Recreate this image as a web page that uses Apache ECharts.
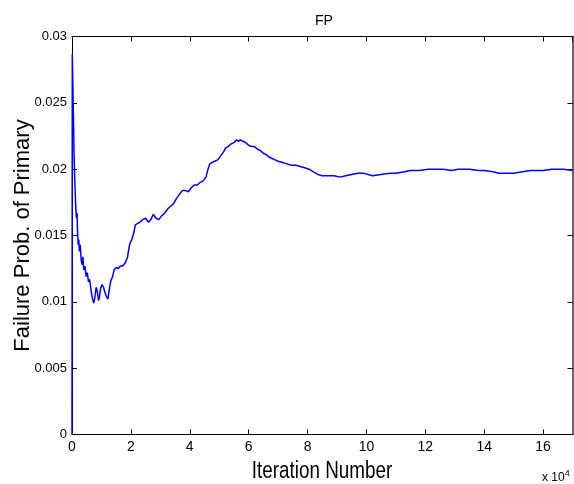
<!DOCTYPE html>
<html>
<head>
<meta charset="utf-8">
<script src="https://cdn.jsdelivr.net/npm/echarts@6/dist/echarts.min.js"></script>
<style>
html,body{margin:0;padding:0;background:#fff;}
#c{width:574px;height:484px;}
</style>
</head>
<body>
<div id="c"></div>
<script>
// Iteration number (in units of 10^4)
var iterX = [0, 0.01, 0.03, 0.05, 0.07, 0.09, 0.11, 0.13, 0.15, 0.17, 0.19, 0.21, 0.23, 0.25, 0.28, 0.31, 0.34, 0.37, 0.40, 0.44, 0.48, 0.52, 0.56, 0.60, 0.65, 0.70, 0.74, 0.78, 0.82, 0.86, 0.90, 0.93, 0.97, 1.02, 1.07, 1.12, 1.17, 1.22, 1.27, 1.32, 1.38, 1.43, 1.50, 1.57, 1.64, 1.72, 1.80, 1.88, 1.93, 1.97, 2.03, 2.10, 2.15, 2.22, 2.30, 2.40, 2.50, 2.60, 2.68, 2.76, 2.85, 2.95, 3.05, 3.15, 3.25, 3.35, 3.45, 3.55, 3.65, 3.75, 3.85, 3.95, 4.05, 4.15, 4.25, 4.35, 4.45, 4.55, 4.62, 4.68, 4.75, 4.85, 4.95, 5.05, 5.15, 5.22, 5.30, 5.40, 5.50, 5.58, 5.65, 5.72, 5.80, 5.90, 6.00, 6.10, 6.20, 6.30, 6.40, 6.50, 6.60, 6.70, 6.80, 6.90, 7.00, 7.15, 7.30, 7.45, 7.60, 7.75, 7.90, 8.05, 8.20, 8.35, 8.50, 8.70, 8.90, 9.10, 9.30, 9.50, 9.70, 9.90, 10.2, 10.5, 10.8, 11.0, 11.3, 11.5, 11.8, 12.1, 12.4, 12.6, 12.9, 13.1, 13.3, 13.5, 13.8, 14.0, 14.3, 14.5, 14.8, 15.0, 15.3, 15.6, 15.8, 16.0, 16.3, 16.5, 16.7, 17.0];
// Failure probability of primary
var failProb = [0, 0.0287, 0.0262, 0.0238, 0.0212, 0.0195, 0.0182, 0.0171, 0.0163, 0.0167, 0.0152, 0.0143, 0.0147, 0.0138, 0.0143, 0.0132, 0.0128, 0.0134, 0.0124, 0.0127, 0.0119, 0.0122, 0.0115, 0.0117, 0.0108, 0.0102, 0.0099, 0.0104, 0.0111, 0.0108, 0.0101, 0.0103, 0.0110, 0.0113, 0.0111, 0.0107, 0.0104, 0.0102, 0.0110, 0.0116, 0.0119, 0.0124, 0.0126, 0.0125, 0.0127, 0.0127, 0.0129, 0.0133, 0.0140, 0.0144, 0.0147, 0.0152, 0.0158, 0.0159, 0.0160, 0.0162, 0.0163, 0.0160, 0.0162, 0.0166, 0.0163, 0.0162, 0.0165, 0.0167, 0.0170, 0.0172, 0.0174, 0.0178, 0.0181, 0.0184, 0.0184, 0.0183, 0.0186, 0.0188, 0.0188, 0.0190, 0.0191, 0.0194, 0.0200, 0.0204, 0.0205, 0.0206, 0.0207, 0.0210, 0.0213, 0.0216, 0.0217, 0.0219, 0.0220, 0.0222, 0.0221, 0.0222, 0.0221, 0.0220, 0.0218, 0.0217, 0.0217, 0.0215, 0.0214, 0.0212, 0.0211, 0.0209, 0.0208, 0.0207, 0.0206, 0.0205, 0.0204, 0.0203, 0.0203, 0.0202, 0.0201, 0.0200, 0.0198, 0.0196, 0.0195, 0.0195, 0.0195, 0.0194, 0.0195, 0.0196, 0.0197, 0.0197, 0.0195, 0.0196, 0.0197, 0.0197, 0.0198, 0.0199, 0.0199, 0.0200, 0.0200, 0.0200, 0.0199, 0.0200, 0.0200, 0.0200, 0.0199, 0.0199, 0.0198, 0.0197, 0.0197, 0.0197, 0.0198, 0.0199, 0.0199, 0.0199, 0.0200, 0.0200, 0.0200, 0.0199];
var xTicks = [0, 2, 4, 6, 8, 10, 12, 14, 16];
var titleText = 'FP';
var xName = 'Iteration Number';
var yName = 'Failure Prob. of Primary';

var seriesData = iterX.map(function (x, i) { return [x, failProb[i]]; });
var chart = echarts.init(document.getElementById('c'), null, {renderer: 'canvas'});
var black = '#000';
var fontSans = '"Liberation Sans", Arial, sans-serif';
chart.setOption({
  animation: false,
  backgroundColor: '#fff',
  title: {
    text: titleText, left: 310, top: 9,
    textStyle: {fontSize: 14, fontWeight: 'normal', color: black, fontFamily: fontSans}
  },
  grid: {left: 72, right: 1.5, top: 36.5, bottom: 49.5, containLabel: false, outerBoundsMode: 'none'},
  xAxis: [{
    type: 'value', min: 0, max: 17, interval: 2, position: 'bottom',
    axisLine: {show: true, onZero: false, lineStyle: {color: black, width: 1}},
    axisTick: {show: true, inside: true, length: 5, lineStyle: {color: black}},
    axisLabel: {show: true, color: black, fontSize: 14, fontFamily: fontSans, margin: 6,
      showMaxLabel: false,
      formatter: function (v) { return xTicks.indexOf(v) >= 0 ? String(v) : ''; }},
    splitLine: {show: false}
  }, {
    type: 'value', min: 0, max: 17, interval: 2, position: 'top',
    axisLine: {show: true, onZero: false, lineStyle: {color: black, width: 1}},
    axisTick: {show: true, inside: true, length: 5, lineStyle: {color: black}},
    axisLabel: {show: false}, splitLine: {show: false}
  }],
  yAxis: [{
    type: 'value', min: 0, max: 0.03, interval: 0.005, position: 'left',
    name: yName, nameLocation: 'middle', nameGap: 38, nameRotate: 90, nameMoveOverlap: false,
    nameTextStyle: {fontSize: 22, color: black, fontFamily: fontSans},
    axisLine: {show: true, onZero: false, lineStyle: {color: black, width: 1}},
    axisTick: {show: true, inside: true, length: 5, lineStyle: {color: black}},
    axisLabel: {show: true, color: black, fontSize: 13, fontFamily: fontSans, margin: 5,
      formatter: function (v) { return String(+v.toFixed(3)); }},
    splitLine: {show: false}
  }, {
    type: 'value', min: 0, max: 0.03, interval: 0.005, position: 'right',
    axisLine: {show: true, onZero: false, lineStyle: {color: '#333', width: 1.5}},
    axisTick: {show: true, inside: true, length: 5, lineStyle: {color: black}},
    axisLabel: {show: false}, splitLine: {show: false}
  }],
  graphic: [{
    type: 'text', x: 322, y: 472, scaleX: 0.82,
    style: {
      text: xName, fontSize: 23, fill: black, fontFamily: fontSans,
      align: 'center', verticalAlign: 'middle'
    }
  }, {
    type: 'text', left: 542, top: 469,
    style: {
      text: 'x 10{s|4}',
      rich: {s: {fontSize: 9, verticalAlign: 'top', padding: [0, 0, 8, 0]}},
      fontSize: 12, fill: black, fontFamily: fontSans
    }
  }],
  series: [{
    type: 'line', xAxisIndex: 0, yAxisIndex: 0, data: seriesData,
    showSymbol: false, symbol: 'none', smooth: false,
    lineStyle: {color: '#0000ff', width: 1.5},
    clip: true
  }]
});
</script>
</body>
</html>
